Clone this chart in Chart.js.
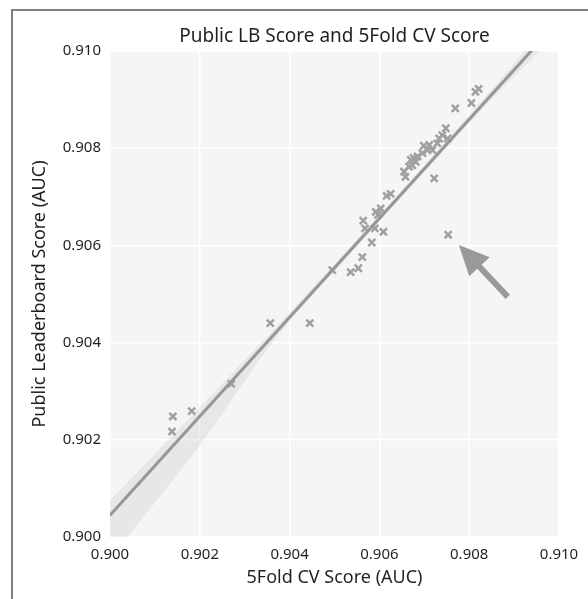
<!DOCTYPE html>
<html lang="en">
<head>
<meta charset="utf-8">
<title>Public LB Score and 5Fold CV Score</title>
<script src="https://cdn.jsdelivr.net/npm/chart.js@4.4.1/dist/chart.umd.min.js"></script>
<style>
  html, body { margin: 0; padding: 0; background: #fff; }
  #wrap { width: 588px; height: 599px; position: relative; }
</style>
</head>
<body>
<div id="wrap"><canvas id="chart-1" width="588" height="599"></canvas></div>
<script>
// one entry per submission: local 5-fold CV AUC and public LB AUC
var cvScore = [0.90140, 0.90138, 0.90182, 0.90270, 0.90357, 0.90445, 0.90495, 0.90536, 0.90553, 0.90562,
               0.90583, 0.90564, 0.90568, 0.90590, 0.90609, 0.90592, 0.90603, 0.90597, 0.90616, 0.90625,
               0.90655, 0.90658, 0.90666, 0.90673, 0.90681, 0.90676, 0.90685, 0.90696, 0.90707, 0.90711,
               0.90718, 0.90729, 0.90733, 0.90740, 0.90748, 0.90752, 0.90722, 0.90769, 0.90805, 0.90814,
               0.90821, 0.90753, 0.90699, 0.90670];
var lbScore = [0.90248, 0.90217, 0.90259, 0.90315, 0.90440, 0.90440, 0.90549, 0.90545, 0.90553, 0.90576,
               0.90606, 0.90651, 0.90635, 0.90635, 0.90628, 0.90669, 0.90676, 0.90663, 0.90702, 0.90706,
               0.90752, 0.90741, 0.90762, 0.90765, 0.90772, 0.90780, 0.90783, 0.90790, 0.90796, 0.90807,
               0.90796, 0.90810, 0.90820, 0.90827, 0.90841, 0.90820, 0.90738, 0.90882, 0.90893, 0.90916,
               0.90922, 0.90622, 0.90805, 0.90776];

// regression line and its confidence band
var fitX = [0.900, 0.910];
var fitY = [0.90045, 0.91063];
var bandX = [0.900, 0.902, 0.9037, 0.9055, 0.907, 0.9085, 0.910];
var bandUpper = [0.90075, 0.90267, 0.90432, 0.90612, 0.90765, 0.90921, 0.91081];
var bandLower = [0.89955, 0.90189, 0.90410, 0.90598, 0.90751, 0.90901, 0.91038];

var tickValues = [0.900, 0.902, 0.904, 0.906, 0.908, 0.910];

// arrow pointing at the outlier (data units)
var arrowFrom = [0.90886, 0.90494];
var arrowTo = [0.90777, 0.90601];

var FONT = '"Noto Sans", "Open Sans", sans-serif';
var TEXT = '#231f20';

function pts(xs, ys) {
  return xs.map(function (x, i) { return { x: x, y: ys[i] }; });
}

var plotBg = {
  id: 'plotBg',
  beforeDraw: function (chart) {
    var a = chart.chartArea, ctx = chart.ctx;
    ctx.save();
    ctx.fillStyle = '#f5f5f5';
    ctx.fillRect(a.left, a.top, a.right - a.left, a.bottom - a.top);
    ctx.restore();
  }
};

var extras = {
  id: 'extras',
  afterDatasetsDraw: function (chart) {
    var ctx = chart.ctx, xs = chart.scales.x, ys = chart.scales.y;
    var x0 = xs.getPixelForValue(arrowFrom[0]), y0 = ys.getPixelForValue(arrowFrom[1]);
    var x1 = xs.getPixelForValue(arrowTo[0]), y1 = ys.getPixelForValue(arrowTo[1]);
    var ang = Math.atan2(y1 - y0, x1 - x0);
    var headLen = 30, headW = 14;
    var bx = x1 - Math.cos(ang) * headLen, by = y1 - Math.sin(ang) * headLen;
    ctx.save();
    ctx.strokeStyle = '#999';
    ctx.fillStyle = '#999';
    ctx.lineWidth = 6;
    ctx.beginPath();
    ctx.moveTo(x0, y0);
    ctx.lineTo(bx + Math.cos(ang) * 2, by + Math.sin(ang) * 2);
    ctx.stroke();
    ctx.beginPath();
    ctx.moveTo(x1, y1);
    ctx.lineTo(bx + Math.sin(ang) * headW, by - Math.cos(ang) * headW);
    ctx.lineTo(bx - Math.sin(ang) * headW, by + Math.cos(ang) * headW);
    ctx.closePath();
    ctx.fill();
    ctx.restore();
  },
  afterDraw: function (chart) {
    var ctx = chart.ctx, a = chart.chartArea;
    ctx.save();
    ctx.font = '19px ' + FONT;
    ctx.fillStyle = TEXT;
    ctx.textAlign = 'center';
    ctx.textBaseline = 'alphabetic';
    ctx.fillText('Public LB Score and 5Fold CV Score', (a.left + a.right) / 2, 42);
    // figure frame, cut off on the right and bottom
    ctx.strokeStyle = '#808080';
    ctx.lineWidth = 2;
    ctx.beginPath();
    ctx.moveTo(12, 600);
    ctx.lineTo(12, 10);
    ctx.lineTo(590, 10);
    ctx.stroke();
    ctx.restore();
  }
};

function axis(titleText, fit) {
  return {
    type: 'linear',
    min: 0.900,
    max: 0.910,
    afterBuildTicks: function (s) {
      s.ticks = tickValues.map(function (v) { return { value: v }; });
    },
    afterFit: fit,
    ticks: {
      autoSkip: false,
      maxRotation: 0,
      padding: 9,
      color: TEXT,
      font: { family: FONT, size: 15 },
      callback: function (v) { return Number(v).toFixed(3); }
    },
    grid: { color: '#ffffff', lineWidth: 1.5, drawTicks: false },
    border: { display: false },
    title: {
      display: true,
      text: titleText,
      color: TEXT,
      font: { family: FONT, size: 18 }
    }
  };
}

var xAxis = axis('5Fold CV Score (AUC)', function (s) { s.height = 62; });
xAxis.title.padding = { top: 0, bottom: 10 };
var yAxis = axis('Public Leaderboard Score (AUC)', function (s) { s.width = 110; });
yAxis.title.padding = { top: 29, bottom: 0 };

new Chart(document.getElementById('chart-1'), {
  type: 'scatter',
  data: {
    datasets: [
      {
        type: 'line',
        data: pts(fitX, fitY),
        borderColor: '#969696',
        borderWidth: 3,
        pointRadius: 0,
        fill: false
      },
      {
        type: 'line',
        data: pts(bandX, bandUpper),
        borderColor: 'transparent',
        borderWidth: 1,
        pointRadius: 0,
        cubicInterpolationMode: 'monotone',
        backgroundColor: 'rgba(175,175,175,0.2)',
        fill: '+1'
      },
      {
        type: 'line',
        data: pts(bandX, bandLower),
        borderColor: 'transparent',
        borderWidth: 1,
        pointRadius: 0,
        cubicInterpolationMode: 'monotone',
        fill: false
      },
      {
        data: pts(cvScore, lbScore),
        pointStyle: 'crossRot',
        pointRadius: 5,
        borderColor: '#a0a0a0',
        borderWidth: 2.5
      }
    ]
  },
  options: {
    responsive: false,
    animation: false,
    layout: { padding: { top: 51, right: 29, left: 0, bottom: 0 } },
    plugins: {
      legend: { display: false },
      title: { display: false },
      tooltip: { enabled: false }
    },
    scales: { x: xAxis, y: yAxis }
  },
  plugins: [plotBg, extras]
});
</script>
</body>
</html>
